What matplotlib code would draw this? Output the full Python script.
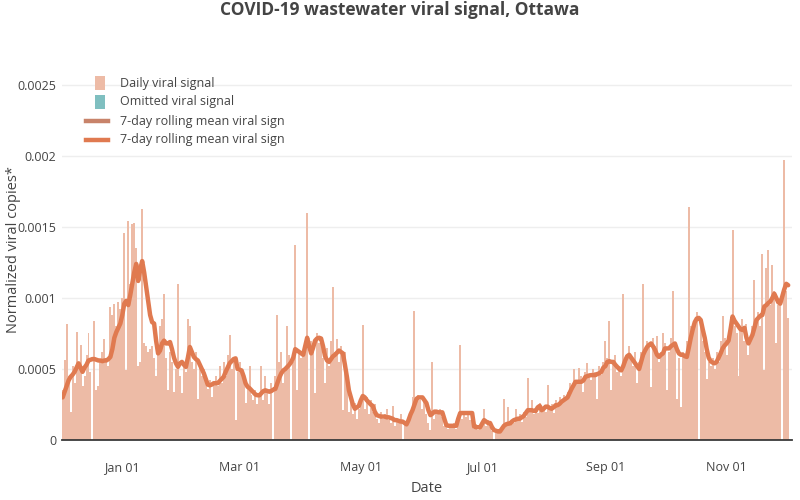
import numpy as np
import pandas as pd
import matplotlib
matplotlib.use("Agg")
import matplotlib.pyplot as plt
from matplotlib.patches import Rectangle
from matplotlib.lines import Line2D

plt.rcParams['font.family'] = ['Open Sans', 'DejaVu Sans']

# daily normalized viral copies, x1e-3, one value per day from 2021-12-02
dec21 = [.35, .56, .82, .45, .20, .52, .40, .76, .55, .67, .38, .45, .60, .75, .48, 0.0, .84, .35, .38, .55,
         .62, .71, .58, .52, .94, .88, .96, .80, .97, .92]
jan = [1.0, 1.46, .49, 1.54, 1.10, 1.52, 1.53, 1.35, .52, .55, 1.63, .68, .66, .62, .64, .66, .58, .45, .62, .80,
       .855, 1.03, .58, .35, .62, .55, .34, .50, 1.10, .45, .33]
feb = [.52, .48, .855, .80, .55, .50, .62, .29, .52, .45, .50, .40, .36, .42, .30, .40, .45, .38, .52, .40,
       .55, .45, .60, .74, .50, .55, .14, .48]
mar = [.55, .50, .45, .26, .38, .52, .32, .28, .35, .25, .30, .52, .28, .45, .35, .25, .40, 0.0, .45, .88,
       .55, .62, .40, .50, .80, .60, 0.0, .55, 1.37, .35, .62]
apr = [.58, .60, .65, 1.60, 0.0, .70, .62, .33, .75, .68, .72, .58, .40, .65, .52, .70, 1.08, .62, .71, .55,
       .66, .21, .62, .445, .20, .30, .18, .26, .15, .22]
may = [.25, .81, .22, .30, .18, .28, .20, .25, .15, .12, .20, .15, .18, .22, .14, .12, .24, .10, .15, .12,
       .18, 0.0, .12, .10, .15, .20, .30, .91, .25, .32, .28]
jun = [.22, .30, .18, .12, .07, .55, .15, .20, .18, .22, .16, .10, .12, .08, .11, .09, .12, .08, .15, .67,
       .15, .18, .16, .20, .14, .17, .08, .11, .07, .10]
jul = [.12, .22, .10, .14, .09, .06, 0.0, .08, .05, .07, .10, .29, .12, .23, .10, .14, .12, .22, .15, .18,
       .13, .20, .16, .44, .20, .28, .18, .22, .19, .26, .20]
aug = [.24, .20, .39, .22, .25, .19, .28, .24, .30, .26, .32, .28, .34, .40, .38, .50, .42, .40, .51, .45,
       .34, .48, .54, .45, .42, .50, .48, .29, .52, .46, .55]
sep = [.70, .58, .84, .35, .55, .60, .48, .52, .45, 1.03, .55, .60, .66, .58, .52, .62, .40, .55, .62, 1.10,
       .65, .70, .68, .37, .72, .66, .73, .55, .62, .75]
oct_ = [.68, .35, .62, .72, 1.05, .66, .29, .58, .23, .62, .60, .70, 1.64, .80, .75, .82, .90, 0.0, .85, .70,
        .62, .43, .55, .52, .58, .50, .62, .55, .70, .87, .72]
nov = [.60, .75, .82, 1.48, .80, .75, .45, .78, .85, .70, .82, .60, .72, .80, 1.13, .85, .90, .80, 1.31, .49,
       1.21, 1.34, .95, 1.23, 1.05, .68, .95, 1.0, 0.0, 1.97]
dec22 = [1.05, .86]

# 7-day rolling mean, x1e-3
roll_dec21 = [.30, .34, .38, .42, .445, .46, .48, .51, .54, .51, .48, .51, .53, .56, .565, .57, .57, .565, .56, .56,
              .555, .56, .56, .57, .585, .64, .72, .76, .79, .82]
roll_jan = [.88, .96, .98, .95, 1.02, 1.10, 1.18, 1.24, 1.12, 1.20, 1.26, 1.18, 1.08, .98, .88, .83, .82, .70, .61, .63,
            .68, .70, .68, .68, .69, .64, .58, .54, .515, .54, .55]
roll_feb = [.53, .515, .58, .655, .62, .585, .57, .56, .53, .50, .47, .43, .39, .385, .39, .40, .40, .40, .415, .43,
            .445, .48, .51, .54, .555, .57, .575, .50]
roll_mar = [.495, .49, .45, .40, .375, .365, .35, .335, .32, .315, .315, .33, .345, .35, .345, .34, .345, .355, .36, .40,
            .44, .47, .49, .50, .515, .53, .55, .58, .64, .63, .62]
roll_apr = [.61, .60, .66, .72, .66, .61, .65, .70, .715, .72, .715, .66, .59, .56, .55, .57, .59, .60, .615, .63,
            .62, .61, .53, .445, .35, .30, .25, .22, .23, .24]
roll_may = [.28, .31, .30, .28, .265, .25, .24, .20, .175, .17, .165, .165, .165, .16, .16, .155, .15, .14, .14, .135,
            .13, .13, .12, .11, .14, .18, .21, .25, .29, .30, .30]
roll_jun = [.30, .28, .26, .21, .175, .185, .20, .20, .195, .195, .195, .15, .105, .10, .10, .10, .10, .10, .15, .19,
            .19, .19, .19, .19, .19, .19, .094, .09, .09, .09]
roll_jul = [.115, .14, .13, .12, .12, .09, .07, .065, .06, .06, .08, .10, .11, .115, .115, .13, .14, .145, .15, .15,
            .16, .17, .19, .21, .21, .21, .205, .205, .23, .24, .21]
roll_aug = [.22, .235, .235, .225, .22, .23, .245, .245, .255, .27, .28, .29, .30, .33, .36, .385, .41, .41, .41, .41,
            .42, .445, .45, .455, .457, .457, .457, .465, .47, .48, .51]
roll_sep = [.52, .55, .555, .55, .55, .53, .515, .50, .49, .52, .56, .59, .60, .58, .56, .54, .52, .50, .55, .60,
            .63, .655, .67, .68, .66, .635, .60, .585, .60, .61]
roll_oct = [.645, .645, .645, .66, .67, .68, .64, .61, .60, .60, .59, .585, .65, .72, .78, .83, .855, .86, .845, .78,
            .72, .64, .58, .555, .545, .54, .55, .58, .61, .645, .665]
roll_nov = [.68, .70, .78, .87, .84, .82, .80, .78, .775, .79, .72, .68, .71, .74, .79, .845, .86, .875, .88, .94,
            .95, .965, .975, 1.00, 1.03, 1.00, .97, .96, 1.01, 1.06]
roll_dec22 = [1.10, 1.09]

yticks = [0, 0.0005, 0.001, 0.0015, 0.002, 0.0025]
ytick_labels = ['0', '0.0005', '0.001', '0.0015', '0.002', '0.0025']
xticks = ['2022-01-01', '2022-03-01', '2022-05-01', '2022-07-01', '2022-09-01', '2022-11-01']
legend_labels = ['Daily viral signal', 'Omitted viral signal',
                 '7-day rolling mean viral sign', '7-day rolling mean viral sign']

daily = np.array(dec21 + jan + feb + mar + apr + may + jun + jul + aug + sep + oct_ + nov + dec22) * 1e-3
rolling = np.array(roll_dec21 + roll_jan + roll_feb + roll_mar + roll_apr + roll_may + roll_jun + roll_jul
                   + roll_aug + roll_sep + roll_oct + roll_nov + roll_dec22) * 1e-3
dates = pd.date_range('2021-12-02', periods=len(daily), freq='D')

bar_col = '#EDBBA6'
omit_col = '#7FBFC0'
line_col = '#E07A50'
line_col2 = '#C8836A'
txt = '#444444'

fig = plt.figure(figsize=(8, 5), dpi=100)
ax = fig.add_axes([62 / 800, 1 - 440 / 500, 730 / 800, 380 / 500])

ax.bar(dates, daily, width=1.0, color=bar_col, linewidth=0)
ax.plot(dates, rolling, color=line_col, lw=3.2, solid_joinstyle='round', solid_capstyle='round')

ax.set_xlim(pd.Timestamp('2021-12-01 16:00'), pd.Timestamp('2022-12-03 22:00'))
ax.set_ylim(0, 0.002676)
ax.set_yticks(yticks)
ax.set_yticklabels(ytick_labels)
ax.set_xticks(pd.to_datetime(xticks))
ax.set_xticklabels([pd.Timestamp(t).strftime('%b %d') for t in xticks])

ax.yaxis.grid(True, color='#eeeeee', lw=1)
ax.set_axisbelow(True)
for s in ['top', 'right', 'left']:
    ax.spines[s].set_visible(False)
ax.spines['bottom'].set_color('#3a3a3a')
ax.spines['bottom'].set_linewidth(1.3)
ax.spines['bottom'].set_zorder(5)
ax.tick_params(axis='both', length=0, labelsize=9, colors=txt)
ax.tick_params(axis='y', pad=4)
ax.tick_params(axis='x', pad=15)

ax.set_xlabel('Date', fontsize=10.5, color=txt)
ax.xaxis.set_label_coords(0.5, -0.108)
ax.set_ylabel('Normalized viral copies*', fontsize=10.5, color=txt)
ax.yaxis.set_label_coords(-0.056, 0.5)

fig.text(0.5, 1 - 10 / 500, 'COVID-19 wastewater viral signal, Ottawa', ha='center', va='center',
         fontsize=12.5, fontweight='bold', color=txt)

# legend drawn by hand, in figure pixels
def fx(x):
    return x / 800

def fy(y):
    return 1 - y / 500

rows = [83, 102, 121, 140]
for i, (lab, yy) in enumerate(zip(legend_labels, rows)):
    if i < 2:
        fig.add_artist(Rectangle((fx(95), fy(yy + 7)), 10 / 800, 14 / 500, transform=fig.transFigure,
                                 color=bar_col if i == 0 else omit_col, lw=0))
    else:
        fig.add_artist(Line2D([fx(86), fx(108)], [fy(yy), fy(yy)], transform=fig.transFigure,
                              color=line_col2 if i == 2 else line_col, lw=3.2))
    fig.text(fx(120), fy(yy), lab, ha='left', va='center', fontsize=9, color=txt)

fig.savefig('out.png', dpi=100)
